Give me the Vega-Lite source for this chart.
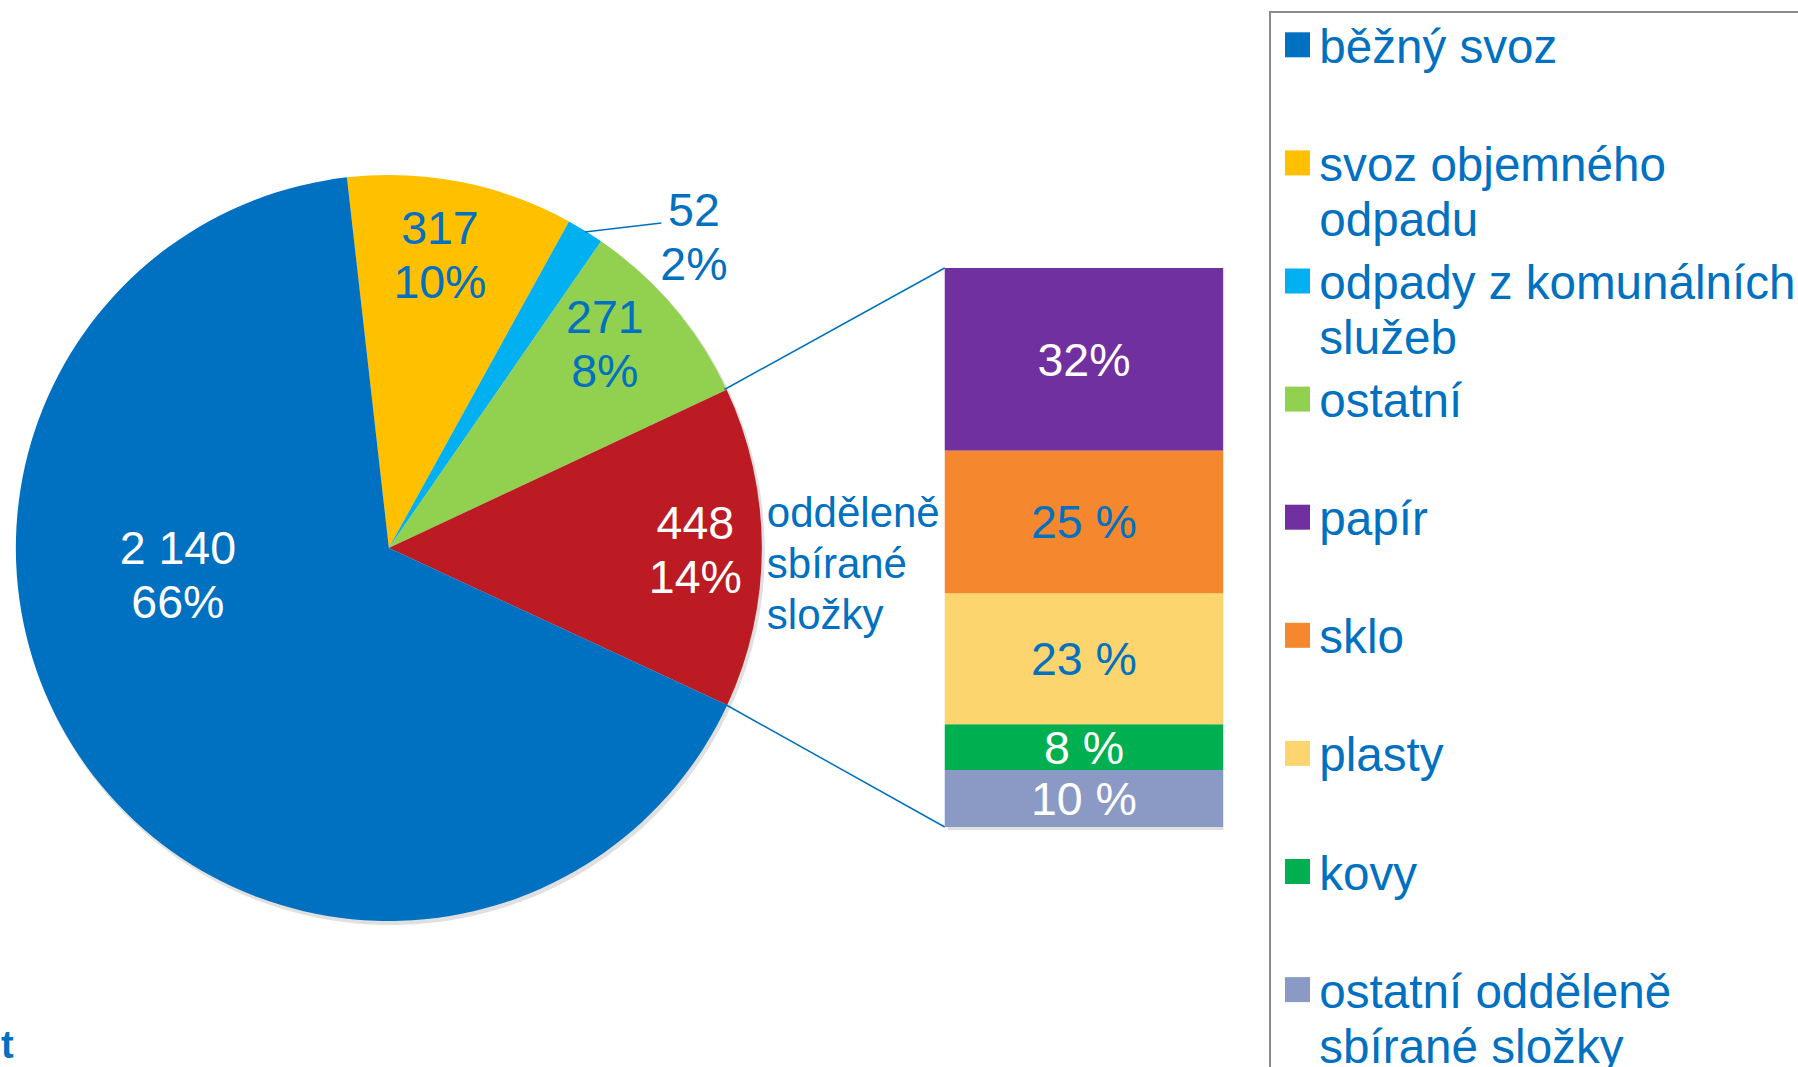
{
  "$schema": "https://vega.github.io/schema/vega-lite/v6.json",
  "width": 1798,
  "height": 1067,
  "padding": 0,
  "autosize": {"type": "none"},
  "background": "white",
  "config": {
    "view": {"stroke": null},
    "font": "Liberation Sans",
    "text": {"font": "Liberation Sans"},
    "locale": {"number": {"decimal": ",", "thousands": " ", "grouping": [3], "currency": ["", " Kč"]}}
  },
  "datasets": {
    "pie": [
      {"k": "svoz objemného odpadu", "v": 317, "p": 0.10, "o": 1},
      {"k": "odpady z komunálních služeb", "v": 52, "p": 0.02, "o": 2},
      {"k": "ostatní", "v": 271, "p": 0.08, "o": 3},
      {"k": "odděleně sbírané složky", "v": 448, "p": 0.14, "o": 4},
      {"k": "běžný svoz", "v": 2140, "p": 0.66, "o": 5}
    ],
    "bar": [
      {"k": "ostatní odděleně sbírané složky", "s": 10, "lbl": "10 %", "o": 1},
      {"k": "kovy", "s": 8, "lbl": "8 %", "o": 2},
      {"k": "plasty", "s": 23, "lbl": "23 %", "o": 3},
      {"k": "sklo", "s": 25, "lbl": "25 %", "o": 4},
      {"k": "papír", "s": 32, "lbl": "32%", "o": 5}
    ],
    "one": [{}]
  },
  "resolve": {"scale": {"y": "independent"}},
  "layer": [
    {
      "data": {"name": "pie"},
      "encoding": {
        "x": {"datum": 388, "type": "quantitative", "scale": {"domain": [0, 1798], "nice": false, "zero": false}, "axis": null},
        "y": {"datum": 551, "type": "quantitative", "scale": {"domain": [0, 1067], "nice": false, "zero": false, "reverse": true}, "axis": null},
        "theta": {"field": "v", "type": "quantitative", "stack": true, "scale": {"range": [-0.1128, 6.1704]}},
        "order": {"field": "o", "type": "quantitative"}
      },
      "layer": [
        {
          "mark": {"type": "arc", "outerRadius": 374, "fill": "#000000", "opacity": 0.12, "stroke": null}
        }
      ]
    },
    {
      "data": {"name": "pie"},
      "encoding": {
        "x": {"datum": 386, "type": "quantitative", "scale": {"domain": [0, 1798], "nice": false, "zero": false}, "axis": null},
        "y": {"datum": 548, "type": "quantitative", "scale": {"domain": [0, 1067], "nice": false, "zero": false, "reverse": true}, "axis": null},
        "theta": {"field": "v", "type": "quantitative", "stack": true, "scale": {"range": [-0.1128, 6.1704]}},
        "order": {"field": "o", "type": "quantitative"}
      },
      "layer": [
        {
          "mark": {"type": "arc", "outerRadius": 373},
          "encoding": {
            "color": {
              "field": "k", "type": "nominal",
              "scale": {
                "domain": ["běžný svoz", "svoz objemného odpadu", "odpady z komunálních služeb", "ostatní", "papír", "sklo", "plasty", "kovy", "ostatní odděleně sbírané složky", "odděleně sbírané složky"],
                "range": ["#0070C0", "#FFC000", "#00B0F0", "#92D050", "#7030A0", "#F5872F", "#FDD56F", "#00B050", "#8A9AC5", "#BD1B23"]
              },
              "legend": {
                "orient": "none", "legendX": 1270, "legendY": 12, "title": null,
                "values": ["běžný svoz", "svoz objemného odpadu", "odpady z komunálních služeb", "ostatní", "papír", "sklo", "plasty", "kovy", "ostatní odděleně sbírané složky"],
                "symbolType": "square", "symbolSize": 625, "symbolStrokeWidth": 0, "symbolOffset": -5.3,
                "labelFont": "Liberation Sans", "labelFontSize": 47.6, "labelColor": "#0070C0",
                "labelLimit": 700, "labelOffset": -2, "labelBaseline": "alphabetic",
                "labelExpr": "datum.label == 'svoz objemného odpadu' ? ['svoz objemného', 'odpadu'] : datum.label == 'odpady z komunálních služeb' ? ['odpady z komunálních', 'služeb'] : datum.label == 'ostatní odděleně sbírané složky' ? ['ostatní odděleně', 'sbírané složky'] : datum.label",
                "gridAlign": "all", "rowPadding": 11.1, "padding": 9, "columns": 1, "direction": "vertical",
                "strokeColor": "#8a8a8a",
                "encode": {
                  "labels": {"update": {"dy": {"value": 18}, "lineHeight": {"value": 55}}},
                  "legend": {"update": {"strokeWidth": {"value": 2}}}
                }
              }
            }
          }
        },
        {
          "mark": {"type": "text", "radius": 212.6, "thetaOffset": 0.5021, "dy": -24.4, "fontSize": 46.5, "baseline": "middle", "align": "center", "fill": "white"},
          "encoding": {"detail": {"field": "k"}, "text": {"condition": {"test": "datum['k'] === 'běžný svoz'", "field": "v", "type": "quantitative", "format": ","}, "value": ""}}
        },
        {
          "mark": {"type": "text", "radius": 212.6, "thetaOffset": 0.5021, "dy": 29.6, "fontSize": 46.5, "baseline": "middle", "align": "center", "fill": "white"},
          "encoding": {"detail": {"field": "k"}, "text": {"condition": {"test": "datum['k'] === 'běžný svoz'", "field": "p", "type": "quantitative", "format": ".0%"}, "value": ""}}
        },
        {
          "mark": {"type": "text", "radius": 298.4, "thetaOffset": -0.0237, "dy": -24.4, "fontSize": 46.5, "baseline": "middle", "align": "center", "fill": "#0070C0"},
          "encoding": {"detail": {"field": "k"}, "text": {"condition": {"test": "datum['k'] === 'svoz objemného odpadu'", "field": "v", "type": "quantitative", "format": ","}, "value": ""}}
        },
        {
          "mark": {"type": "text", "radius": 298.4, "thetaOffset": -0.0237, "dy": 29.6, "fontSize": 46.5, "baseline": "middle", "align": "center", "fill": "#0070C0"},
          "encoding": {"detail": {"field": "k"}, "text": {"condition": {"test": "datum['k'] === 'svoz objemného odpadu'", "field": "p", "type": "quantitative", "format": ".0%"}, "value": ""}}
        },
        {
          "mark": {"type": "text", "radius": 436, "thetaOffset": 0.2201, "dy": -24.4, "fontSize": 46.5, "baseline": "middle", "align": "center", "fill": "#0070C0"},
          "encoding": {"detail": {"field": "k"}, "text": {"condition": {"test": "datum['k'] === 'odpady z komunálních služeb'", "field": "v", "type": "quantitative", "format": ","}, "value": ""}}
        },
        {
          "mark": {"type": "text", "radius": 436, "thetaOffset": 0.2201, "dy": 29.6, "fontSize": 46.5, "baseline": "middle", "align": "center", "fill": "#0070C0"},
          "encoding": {"detail": {"field": "k"}, "text": {"condition": {"test": "datum['k'] === 'odpady z komunálních služeb'", "field": "p", "type": "quantitative", "format": ".0%"}, "value": ""}}
        },
        {
          "mark": {"type": "text", "radius": 297.8, "thetaOffset": -0.0576, "dy": -24.4, "fontSize": 46.5, "baseline": "middle", "align": "center", "fill": "#0070C0"},
          "encoding": {"detail": {"field": "k"}, "text": {"condition": {"test": "datum['k'] === 'ostatní'", "field": "v", "type": "quantitative", "format": ","}, "value": ""}}
        },
        {
          "mark": {"type": "text", "radius": 297.8, "thetaOffset": -0.0576, "dy": 29.6, "fontSize": 46.5, "baseline": "middle", "align": "center", "fill": "#0070C0"},
          "encoding": {"detail": {"field": "k"}, "text": {"condition": {"test": "datum['k'] === 'ostatní'", "field": "p", "type": "quantitative", "format": ".0%"}, "value": ""}}
        },
        {
          "mark": {"type": "text", "radius": 306.5, "thetaOffset": 0.0052, "dy": -24.4, "fontSize": 46.5, "baseline": "middle", "align": "center", "fill": "white"},
          "encoding": {"detail": {"field": "k"}, "text": {"condition": {"test": "datum['k'] === 'odděleně sbírané složky'", "field": "v", "type": "quantitative", "format": ","}, "value": ""}}
        },
        {
          "mark": {"type": "text", "radius": 306.5, "thetaOffset": 0.0052, "dy": 29.6, "fontSize": 46.5, "baseline": "middle", "align": "center", "fill": "white"},
          "encoding": {"detail": {"field": "k"}, "text": {"condition": {"test": "datum['k'] === 'odděleně sbírané složky'", "field": "p", "type": "quantitative", "format": ".0%"}, "value": ""}}
        },
        {
          "mark": {"type": "text", "radius": 378.6, "thetaOffset": -0.0536, "align": "left", "baseline": "alphabetic", "lineBreak": " ", "lineHeight": 51, "fontSize": 42, "fill": "#0070C0"},
          "encoding": {"detail": {"field": "k"}, "text": {"condition": {"test": "datum['k'] === 'odděleně sbírané složky'", "field": "k", "type": "nominal"}, "value": ""}}
        }
      ]
    },
    {
      "data": {"name": "one"},
      "mark": {"type": "rule", "color": "#0070C0", "strokeWidth": 1.5},
      "encoding": {
        "x": {"datum": 723.5, "type": "quantitative", "scale": {"domain": [0, 1798], "nice": false, "zero": false}, "axis": null},
        "y": {"datum": 389.5, "type": "quantitative", "scale": {"domain": [0, 1067], "nice": false, "zero": false, "reverse": true}, "axis": null},
        "x2": {"datum": 945},
        "y2": {"datum": 268}
      }
    },
    {
      "data": {"name": "one"},
      "mark": {"type": "rule", "color": "#0070C0", "strokeWidth": 1.5},
      "encoding": {
        "x": {"datum": 724.5, "type": "quantitative", "scale": {"domain": [0, 1798], "nice": false, "zero": false}, "axis": null},
        "y": {"datum": 704.5, "type": "quantitative", "scale": {"domain": [0, 1067], "nice": false, "zero": false, "reverse": true}, "axis": null},
        "x2": {"datum": 945},
        "y2": {"datum": 827}
      }
    },
    {
      "data": {"name": "one"},
      "mark": {"type": "rule", "color": "#0070C0", "strokeWidth": 1.5},
      "encoding": {
        "x": {"datum": 583, "type": "quantitative", "scale": {"domain": [0, 1798], "nice": false, "zero": false}, "axis": null},
        "y": {"datum": 232, "type": "quantitative", "scale": {"domain": [0, 1067], "nice": false, "zero": false, "reverse": true}, "axis": null},
        "x2": {"datum": 660},
        "y2": {"datum": 223}
      }
    },
    {
      "data": {"name": "one"},
      "mark": {"type": "text", "align": "left", "baseline": "alphabetic", "fontSize": 38, "fontWeight": "bold", "fill": "#0070C0"},
      "encoding": {
        "x": {"datum": -4, "type": "quantitative", "scale": {"domain": [0, 1798], "nice": false, "zero": false}, "axis": null},
        "y": {"datum": 1058, "type": "quantitative", "scale": {"domain": [0, 1067], "nice": false, "zero": false, "reverse": true}, "axis": null},
        "text": {"value": "t"}
      }
    },
    {
      "data": {"name": "bar"},
      "encoding": {
        "x": {"datum": 945, "type": "quantitative", "scale": {"domain": [0, 1798], "nice": false, "zero": false}, "axis": null},
        "y": {"field": "s", "type": "quantitative", "stack": "zero", "scale": {"domain": [0, 98], "range": [827, 268], "nice": false, "zero": false}, "axis": null},
        "order": {"field": "o", "type": "quantitative"}
      },
      "layer": [
        {
          "mark": {"type": "bar", "orient": "vertical", "xOffset": 3, "yOffset": 3, "fill": "#000000", "opacity": 0.12},
          "encoding": {"x2": {"datum": 1225}, "detail": {"field": "k"}}
        },
        {
          "mark": {"type": "bar", "orient": "vertical"},
          "encoding": {
            "x2": {"datum": 1225},
            "color": {"field": "k", "type": "nominal", "legend": null}
          }
        },
        {
          "mark": {"type": "text", "fontSize": 46.5, "baseline": "middle", "align": "center", "dy": 2.6},
          "encoding": {
            "x": {"datum": 1085, "type": "quantitative", "scale": {"domain": [0, 1798], "nice": false, "zero": false}, "axis": null},
            "y": {"field": "s", "type": "quantitative", "stack": "zero", "bandPosition": 0.5, "axis": null},
            "detail": {"field": "k"},
            "text": {"field": "lbl"},
            "color": {"condition": {"test": "datum['k'] === 'sklo' || datum['k'] === 'plasty'", "value": "#0070C0"}, "value": "white"}
          }
        }
      ]
    }
  ]
}
